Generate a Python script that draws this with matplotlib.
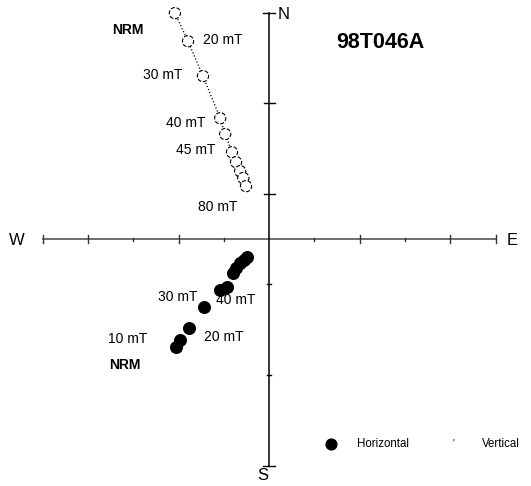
import matplotlib.pyplot as plt

plt.rcParams['font.family'] = ['Liberation Sans', 'DejaVu Sans']

# Zijderveld diagram, axis units = one tick step
vert_x = [-2.08, -1.79, -1.46, -1.08, -0.97, -0.82, -0.73, -0.64, -0.57, -0.51]
vert_y = [4.99, 4.37, 3.60, 2.67, 2.32, 1.92, 1.70, 1.50, 1.35, 1.17]

horiz_x = [-2.05, -1.96, -1.77, -1.43, -1.08, -0.93, -0.79, -0.73, -0.64, -0.55, -0.49]
horiz_y = [-2.38, -2.23, -1.96, -1.50, -1.13, -1.06, -0.75, -0.64, -0.53, -0.46, -0.40]

vert_labels = ['NRM', '20 mT', '30 mT', '40 mT', '45 mT', '80 mT']
vert_label_pos = [(-3.13, 4.61), (-1.02, 4.39), (-2.34, 3.62), (-1.83, 2.56),
                  (-1.63, 1.96), (-1.13, 0.71)]
horiz_labels = ['NRM', '10 mT', '20 mT', '30 mT', '40 mT']
horiz_label_pos = [(-3.18, -2.78), (-3.13, -2.21), (-0.99, -2.16), (-2.01, -1.28),
                   (-0.73, -1.35)]

fig = plt.figure(figsize=(5.31, 4.86), dpi=100)
ax = fig.add_axes([0, 0, 1, 1])
ax.set_xlim(-5.94, 5.78)
ax.set_ylim(-5.45, 5.28)
ax.axis('off')

# axes
ax.plot([-5, 5], [0, 0], color='#555555', lw=1.2, zorder=1)
ax.plot([0, 0], [-5, 5], color='black', lw=1.1, zorder=1)
for t in [-5, -4, -2, 2, 4, 5]:
    ax.plot([t, t], [-0.09, 0.09], color='#333333', lw=1.0)
for t in [-3, -1, 1, 3]:
    ax.plot([t, t], [-0.03, 0.03], color='#333333', lw=1.0)
for t in [-5, 5]:
    ax.plot([-0.13, 0.13], [t, t], color='black', lw=1.0)
for t in [1, 3]:
    ax.plot([-0.12, 0.12], [t, t], color='black', lw=1.0)
for t in [-1, -3]:
    ax.plot([-0.04, 0.04], [t, t], color='black', lw=1.0)

# vertical projection
ax.plot(vert_x, vert_y, ':', color='black', lw=0.9, zorder=2)
ax.scatter(vert_x, vert_y, s=65, facecolors='white', edgecolors='black',
           linewidths=0.8, linestyles='dashed', zorder=3)

# horizontal projection
ax.scatter(horiz_x, horiz_y, s=70, color='black', zorder=3)

for lab, (x, y) in zip(vert_labels, vert_label_pos):
    ax.text(x, y, lab, ha='center', va='center', fontsize=10,
            fontweight='bold' if lab == 'NRM' else 'normal')
for lab, (x, y) in zip(horiz_labels, horiz_label_pos):
    ax.text(x, y, lab, ha='center', va='center', fontsize=10,
            fontweight='bold' if lab == 'NRM' else 'normal')

ax.text(2.45, 4.35, '98T046A', ha='center', va='center', fontsize=15.5, fontweight='bold')
ax.text(0.31, 4.97, 'N', ha='center', va='center', fontsize=12)
ax.text(5.36, -0.02, 'E', ha='center', va='center', fontsize=12)
ax.text(-5.56, -0.02, 'W', ha='center', va='center', fontsize=12)
ax.text(-0.15, -5.21, 'S', ha='center', va='center', fontsize=12)

# legend
ax.scatter([0.623], [0.0864], s=60, color='black', transform=ax.transAxes)
ax.text(0.672, 0.0864, 'Horizontal', ha='left', va='center', fontsize=8.3,
        transform=ax.transAxes)
ax.text(0.853, 0.0864, "'", ha='center', va='center', fontsize=7,
        transform=ax.transAxes)
ax.text(0.908, 0.0864, 'Vertical', ha='left', va='center', fontsize=8.3,
        transform=ax.transAxes)

fig.savefig('out.png', dpi=100)
